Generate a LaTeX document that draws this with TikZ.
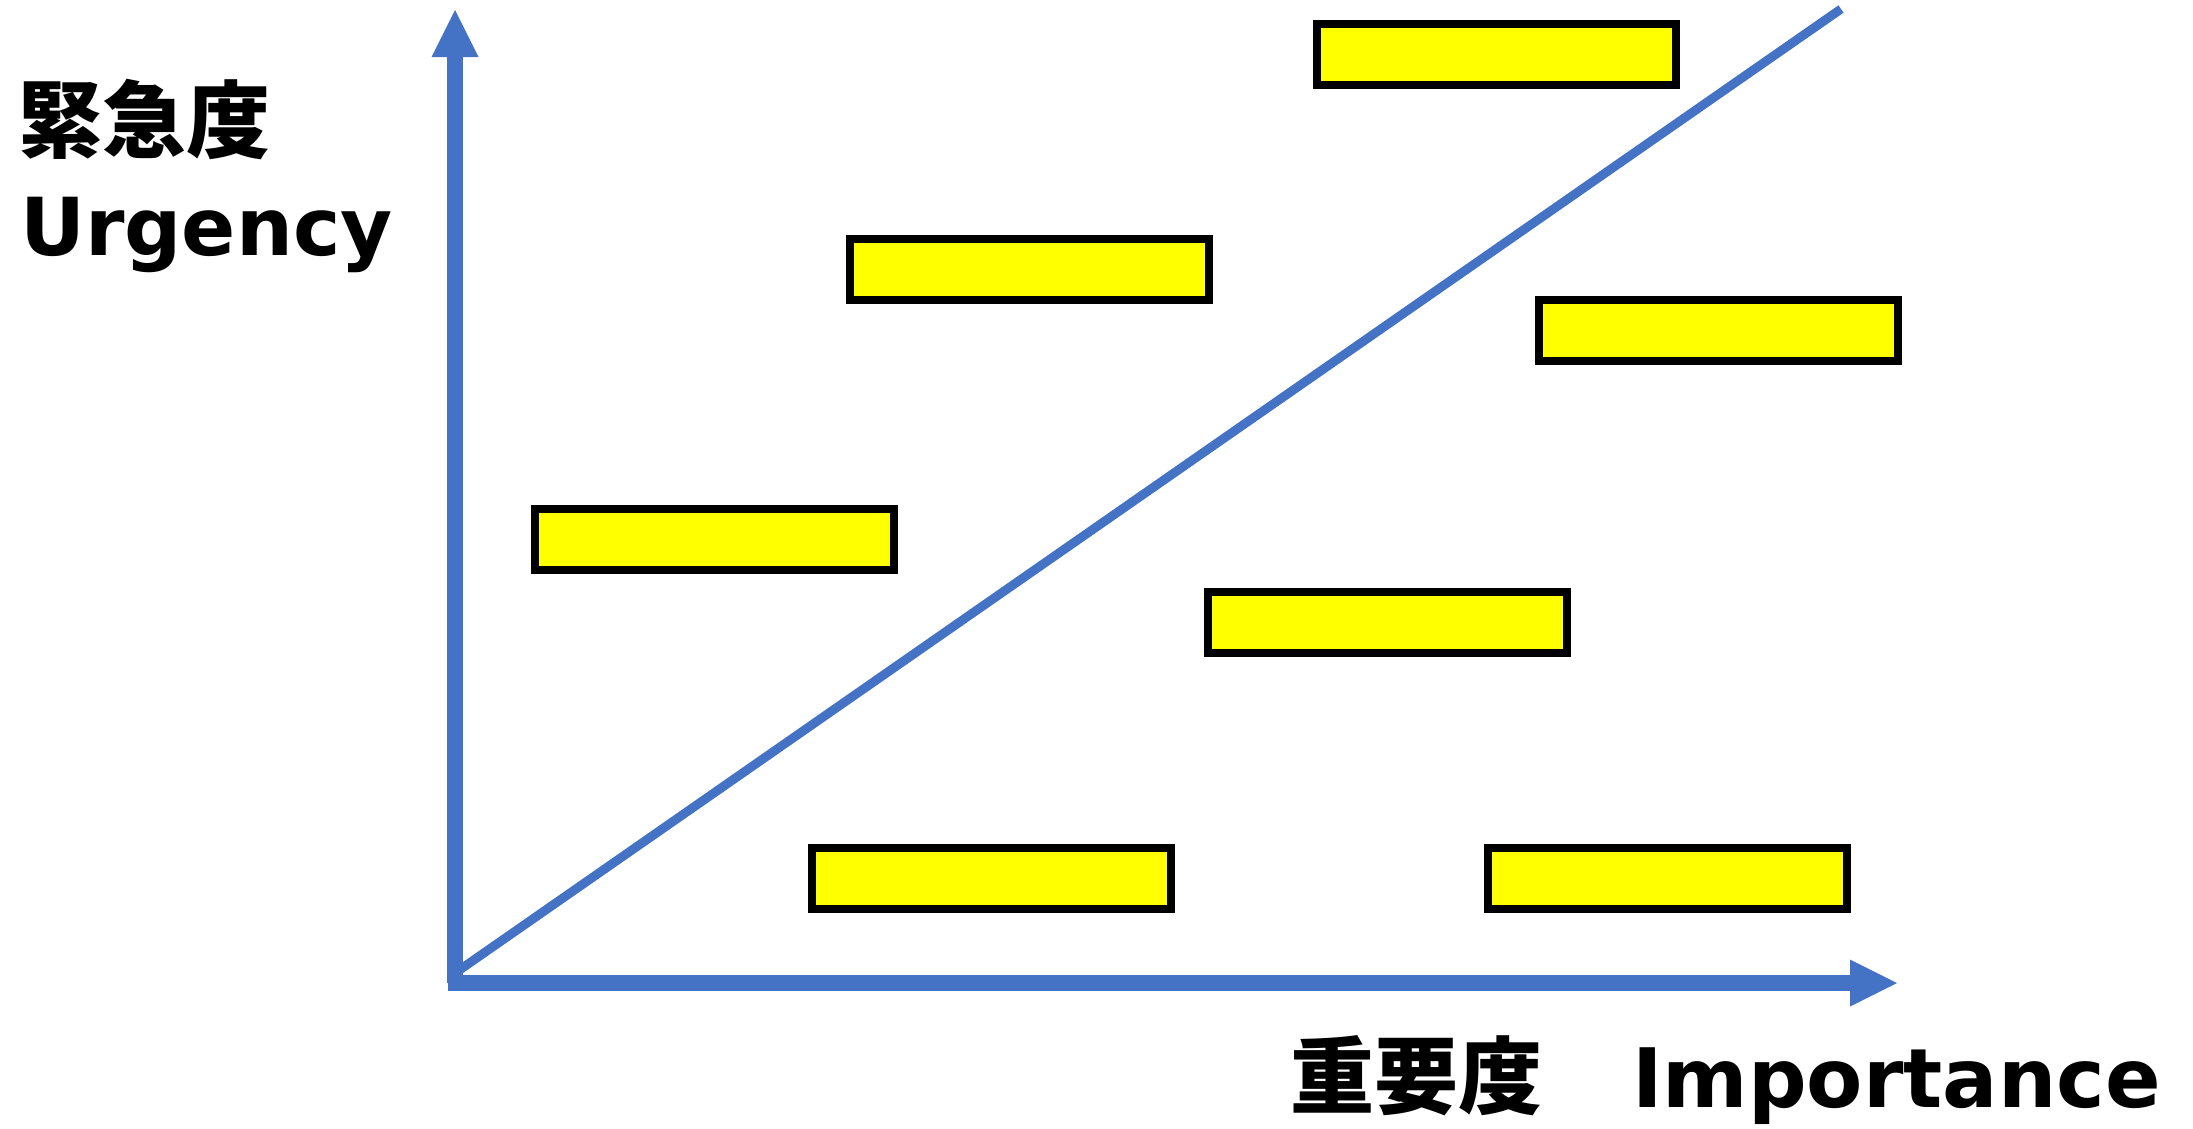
\documentclass[tikz,border=0pt]{standalone}
\usepackage{fontspec}
\usetikzlibrary{arrows.meta}
\newfontfamily\cjk{Noto Sans CJK JP}
\newfontfamily\lat{DejaVu Sans}
\definecolor{axisblue}{HTML}{4472C4}
\definecolor{boxyellow}{HTML}{FFFF00}
\begin{document}
\begin{tikzpicture}[x=1pt,y=-1pt,
  box/.style={draw=black, line width=8pt, fill=boxyellow, minimum width=359pt, minimum height=61pt, inner sep=0pt},
  axis/.style={line width=16pt, draw=axisblue, -{Triangle[width=47pt,length=47pt,line width=0pt]}},
  diag/.style={line width=9pt, draw=axisblue},
  lab/.style={inner sep=0pt, anchor=base west, font=\bfseries}]
\useasboundingbox (0,0) rectangle (2193,1128);
% diagonal
\coordinate (dstart) at (458,971);
\coordinate (dend) at (1841,9);
\draw[diag] (dstart) -- (dend);
% axes
\coordinate (vbase) at (455,983);
\coordinate (vtip) at (455,10);
\coordinate (hbase) at (448,983);
\coordinate (htip) at (1897,983);
\draw[axis] (vbase) -- (vtip);
\draw[axis] (hbase) -- (htip);
% boxes
\node[box] (b1) at (1496,54) {};
\node[box] (b2) at (1029.5,269.5) {};
\node[box] (b3) at (1718,330.5) {};
\node[box] (b4) at (714.5,539.5) {};
\node[box] (b5) at (1387.5,622.5) {};
\node[box] (b6) at (991.5,878.5) {};
\node[box] (b7) at (1667,878.5) {};
% labels
\node[lab, font=\cjk\bfseries\fontsize{84}{84}\selectfont] (ulabjp) at (18,151) {緊急度};
\node[lab, font=\lat\bfseries\fontsize{80}{80}\selectfont] (ulaben) at (20,255) {Urgency};
\node[lab] (ilab) at (1290,1107) {{\cjk\bfseries\fontsize{84}{84}\selectfont 重要度　}\hspace{6pt}{\lat\bfseries\fontsize{82}{82}\selectfont Importance}};
\end{tikzpicture}
\end{document}
